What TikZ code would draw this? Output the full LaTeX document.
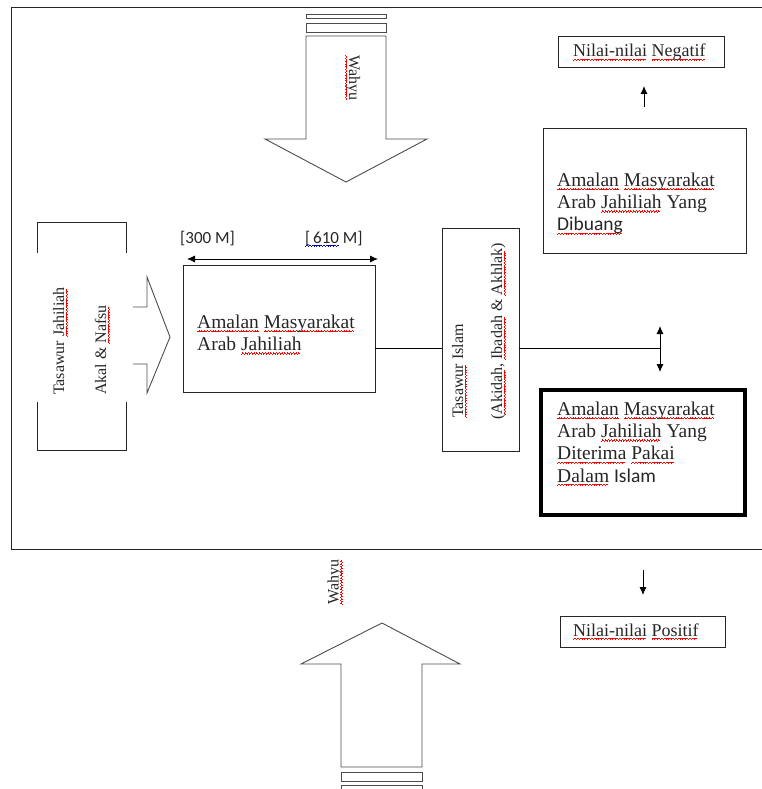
\documentclass[tikz,border=0pt]{standalone}
\usepackage{fontspec}
\setmainfont{Liberation Serif}
\newfontfamily\calibri{Carlito}
\usetikzlibrary{arrows.meta}
\newbox\wordbox
\newcommand\wavecell{\rule[-3.8pt]{0.7pt}{0.75pt}\rule[-3.2pt]{0.7pt}{0.75pt}\rule[-2.6pt]{0.7pt}{0.75pt}\rule[-3.2pt]{0.7pt}{0.75pt}}
\newcommand\wavedword[2]{\setbox\wordbox\hbox{#2}\rlap{\color{#1}\leaders\hbox{\wavecell}\hskip\wd\wordbox}\box\wordbox}
\newcommand\rw[1]{\wavedword{red}{#1}}
\newcommand\bw[1]{\wavedword{blue!75!black}{#1}}
\newcommand\fbig{\fontsize{19.5}{22.2}\selectfont}
\newcommand\fmid{\fontsize{18}{21}\selectfont}
\newcommand\frot{\fontsize{16}{19}\selectfont}
\newcommand\flab{\calibri\fontsize{17}{20}\selectfont}
\tikzset{
  box/.style={draw=black!85, line width=0.8pt, inner sep=0pt, minimum width=#1},
  thickbox/.style={draw=black, line width=3.6pt, inner sep=0pt},
  txt/.style={inner sep=0pt, text=black!85},
  shapeline/.style={draw=black!70, line width=0.9pt},
  conn/.style={draw=black, line width=0.8pt},
  arr/.style={conn, -{Latex[length=8pt,width=7pt]}},
  darr/.style={conn, {Latex[length=8pt,width=7pt]}-{Latex[length=8pt,width=7pt]}},
}
\begin{document}
\begin{tikzpicture}[x=1pt,y=-1pt]
\useasboundingbox (0,0) rectangle (762,789);
% outer frame
\draw[draw=black!85, line width=1pt] (762,8) -- (11,8) -- (11,549) -- (762,549);

% top Wahyu arrow
\draw[shapeline] (306,14) rectangle (386,18);
\draw[shapeline] (306,23) rectangle (386,32);
\draw[shapeline, line join=miter] (306,36) -- (306,139) -- (265,139) -- (346,182) -- (427,139) -- (386,139) -- (386,36) -- cycle;
\node[txt, font=\frot, rotate=-90, anchor=base west] (wahyuTop) at (349,55) {\rw{Wahyu}};

% bottom Wahyu arrow
\draw[shapeline] (341,772) rectangle (422,781);
\draw[shapeline] (341,790) -- (341,785) -- (422,785) -- (422,790);
\draw[shapeline, line join=miter] (341,767) -- (341,664) -- (301,664) -- (382,623) -- (460,664) -- (422,664) -- (422,767) -- cycle;
\node[txt, font=\frot, rotate=90, anchor=base west] (wahyuBot) at (338.5,605) {\rw{Wahyu}};

% left Tasawur Jahiliah box
\draw[draw=black!85, line width=0.8pt] (37,253) -- (37,222) -- (126,222) -- (126,253);
\draw[draw=black!85, line width=0.8pt] (37,402) -- (37,450) -- (126,450) -- (126,402);
\node[txt, font=\frot, rotate=90, anchor=base west] (tj) at (64,395) {Tasawur \rw{Jahiliah}};
\node[txt, font=\frot, rotate=90, anchor=base west] (an) at (106,395) {Akal \& \rw{Nafsu}};
% chevron arrow
\draw[shapeline, line join=miter] (133,307) -- (147,307) -- (147,277) -- (170,337) -- (147,393) -- (147,364) -- (133,364);

% main box
\node[box=192pt, minimum height=127pt] (main) at (279,328.5) {};
\node[txt, font=\fbig, align=left, anchor=north west] (mainT) at (197,314.7) {\rw{Amalan} \rw{Masyarakat}\\Arab \rw{Jahiliah}};
% period labels
\coordinate (p1) at (187,259);
\coordinate (p2) at (378,259);
\draw[darr] (p1) -- (p2);
\node[txt, font=\flab, anchor=base west] (l300) at (180,243) {[300 M]};
\node[txt, font=\flab, anchor=base west] (l610) at (305,243) {\bw{[\,610} M]};

% Tasawur Islam box
\node[box=77pt, minimum height=223pt] (islam) at (480.5,339.5) {};
\node[txt, font=\frot, rotate=90, anchor=base west] (ti) at (463,418) {\rw{Tasawur} Islam};
\node[txt, font=\frot, rotate=90, anchor=base west] (aia) at (502,420) {(\rw{Akidah}, \rw{Ibadah} \& \rw{Akhlak})};

% connectors
\coordinate (j) at (660,348);
\draw[conn] (main.east |- j) -- (islam.west |- j);
\draw[conn] (islam.east |- j) -- (j);
\coordinate (v1) at (660,326);
\coordinate (v2) at (660,372);
\draw[darr] (v1) -- (v2);

% right top box
\node[box=203pt, minimum height=125pt] (buang) at (644.5,190.5) {};
\node[txt, font=\fbig, align=left, anchor=north west] (buangT) at (557,172.7) {\rw{Amalan} \rw{Masyarakat}\\Arab \rw{Jahiliah} Yang\\{\calibri\rw{Dibuang}}};
\node[box=166pt, minimum height=31pt] (neg) at (641,51.5) {};
\node[txt, font=\fmid, anchor=base west] (negT) at (573,57) {\rw{Nilai-nilai} \rw{Negatif}};
\coordinate (u1) at (644,107);
\coordinate (u2) at (644,86);
\draw[arr] (u1) -- (u2);

% right bottom thick box
\node[thickbox, minimum width=204pt, minimum height=125pt] (terima) at (643,452.5) {};
\node[txt, font=\fbig, align=left, anchor=north west] (terimaT) at (557,401.7) {\rw{Amalan} \rw{Masyarakat}\\Arab \rw{Jahiliah} Yang\\\rw{Diterima} \rw{Pakai}\\\rw{Dalam} {\calibri Islam}};
\coordinate (d1) at (643,570);
\coordinate (d2) at (643,595);
\draw[arr] (d1) -- (d2);
\node[box=165pt, minimum height=31pt] (pos) at (642.5,631.5) {};
\node[txt, font=\fmid, anchor=base west] (posT) at (573,636) {\rw{Nilai-nilai} \rw{Positif}};
\end{tikzpicture}
\end{document}
